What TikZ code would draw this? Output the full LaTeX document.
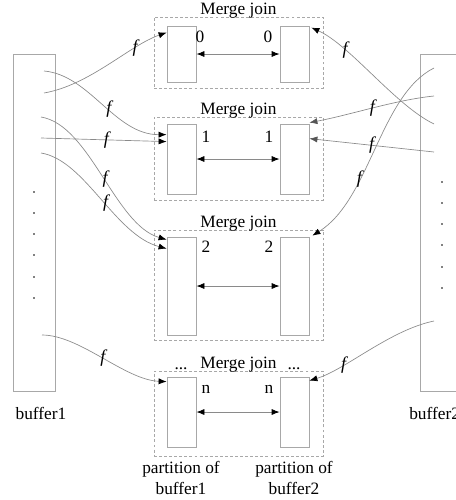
\documentclass[tikz,border=0pt]{standalone}
\usepackage{fontspec}
\setmainfont{Liberation Serif}
\usetikzlibrary{arrows.meta,calc}

\definecolor{linegray}{HTML}{8A8A8A}
\definecolor{boxgray}{HTML}{A8A8A8}
\definecolor{tipgray}{HTML}{555555}

\tikzset{
  buf/.style={draw=boxgray, line width=0.6pt, minimum width=31.5pt, minimum height=252.75pt, inner sep=0pt},
  joinbox/.style={draw=boxgray, line width=0.5pt, dash pattern=on 2.2pt off 1.6pt, minimum width=126.75pt, inner sep=0pt},
  part/.style={draw=boxgray, line width=0.6pt, minimum width=21.75pt, inner sep=0pt},
  hash/.style={linegray, line width=0.5pt, -{Latex[length=6pt,width=4.6pt,color=black]}},
  hashg/.style={linegray, line width=0.5pt, -{Latex[length=6pt,width=4.6pt,color=tipgray]}},
  both/.style={linegray, line width=0.6pt, {Latex[length=6pt,width=4.6pt,color=black]}-{Latex[length=6pt,width=4.6pt,color=black]}},
  flab/.style={font=\fontsize{13.5}{15}\selectfont\itshape, text=black, inner sep=0pt},
}

\begin{document}
\begin{tikzpicture}[x=0.75pt, y=-0.75pt, font=\fontsize{13}{15.75}\selectfont]
  \useasboundingbox (0,0) rectangle (456,500);

  % the two buffers
  \node[buf] (buf1) at (34,222.5) {};
  \node[buf] (buf2) at (441,222.5) {};
  \node (lb1) at (41,413) {buffer1};
  \node[anchor=west, inner sep=0pt] (lb2) at (409,413) {buffer2};
  \foreach \y in {192,213,234,255,277,298}
    \fill (34,\y) circle (0.9);
  \foreach \y in {182,203,224,245,267,288}
    \fill (442,\y) circle (0.9);

  % merge join boxes
  \node[joinbox, minimum height=53.25pt] (j0) at (238.5,52.5) {};
  \node[joinbox, minimum height=62.25pt] (j1) at (238.5,158.5) {};
  \node[joinbox, minimum height=82.5pt] (j2) at (238.5,285) {};
  \node[joinbox, minimum height=63.75pt] (jn) at (238.5,413.5) {};
  \node[anchor=base] (t0) at ($(j0.north)+(0,-2)$) {Merge join};
  \node[anchor=base] (t1) at ($(j1.north)+(0,-2)$) {Merge join};
  \node[anchor=base] (t2) at ($(j2.north)+(0,-2)$) {Merge join};
  \node[anchor=base] (tn) at ($(jn.north)+(0,-2)$) {Merge join};
  \node[anchor=base] (dl) at (181,369) {...};
  \node[anchor=base] (dr) at (294,369) {...};

  % partitions
  \node[part, minimum height=42pt] (p0a) at (181.5,54) {};
  \node[part, minimum height=42pt] (p0b) at (294.5,54) {};
  \node[part, minimum height=52.5pt] (p1a) at (181.5,159) {};
  \node[part, minimum height=52.5pt] (p1b) at (294.5,159) {};
  \node[part, minimum height=73.5pt] (p2a) at (181.5,286) {};
  \node[part, minimum height=73.5pt] (p2b) at (294.5,286) {};
  \node[part, minimum height=52.5pt] (pna) at (181.5,412) {};
  \node[part, minimum height=52.5pt] (pnb) at (294.5,412) {};

  \node (n0a) at (200,36.5) {0};
  \node (n0b) at (268,36.5) {0};
  \node (n1a) at (206,137) {1};
  \node (n1b) at (269,137) {1};
  \node (n2a) at (206,247) {2};
  \node (n2b) at (269,247) {2};
  \node (nna) at (206,389) {n};
  \node (nnb) at (269,389) {n};

  \draw[both] (p0a) -- (p0b);
  \draw[both] (p1a) -- (p1b);
  \draw[both] (p2a) -- (p2b);
  \draw[both] (pna) -- (pnb);

  \node[align=center] (lp1) at (181,478) {partition of\\buffer1};
  \node[align=center] (lp2) at (294,478) {partition of\\buffer2};

  % hashing buffer1 into the left partitions
  \coordinate (a1) at (44,93);
  \coordinate (a2) at (44,71);
  \coordinate (a3) at (41,138);
  \coordinate (a4) at (41,117);
  \coordinate (a5) at (41,153);
  \coordinate (a6) at (42,335);
  \draw[hash] (a1) .. controls (90,85) and (130,45) .. ($(p0a.north west)+(0,7)$)
    node[flab, pos=0.72] (fa1) {f};
  \draw[hash] (a2) .. controls (90,75) and (115,135) .. ($(p1a.north west)+(0,11)$)
    node[flab, pos=0.55] (fa2) {f};
  \draw[hash] (a3) -- ($(p1a.north west)+(0,18)$)
    node[flab, pos=0.52] (fa3) {f};
  \draw[hash] (a4) .. controls (90,125) and (115,225) .. ($(p2a.north west)+(0,3)$)
    node[flab, pos=0.52] (fa4) {f};
  \draw[hash] (a5) .. controls (85,160) and (115,235) .. ($(p2a.north west)+(0,12)$)
    node[flab, pos=0.54] (fa5) {f};
  \draw[hash] (a6) .. controls (80,335) and (125,380) .. ($(pna.north west)+(0,5)$)
    node[flab, pos=0.5] (fa6) {f};

  % hashing buffer2 into the right partitions
  \coordinate (b1) at (434,124);
  \coordinate (b2) at (434,96);
  \coordinate (b3) at (434,152);
  \coordinate (b4) at (434,68);
  \coordinate (b5) at (434,321);
  \draw[hash] (b1) .. controls (395,105) and (350,45) .. ($(p0b.north east)+(2,2)$)
    node[flab, pos=0.72] (fb1) {f};
  \draw[hashg] (b2) .. controls (395,100) and (350,115) .. ($(p1b.north east)+(0,-1)$)
    node[flab, pos=0.5] (fb2) {f};
  \draw[hashg] (b3) -- ($(p1b.north east)+(0,15)$)
    node[flab, pos=0.5] (fb3) {f};
  \draw[hash] (b4) .. controls (380,95) and (370,200) .. ($(p2b.north east)+(3,-1)$)
    node[flab, pos=0.65] (fb4) {f};
  \draw[hash] (b5) .. controls (390,330) and (345,370) .. ($(pnb.north east)+(0,4)$)
    node[flab, pos=0.7] (fb5) {f};
\end{tikzpicture}
\end{document}
